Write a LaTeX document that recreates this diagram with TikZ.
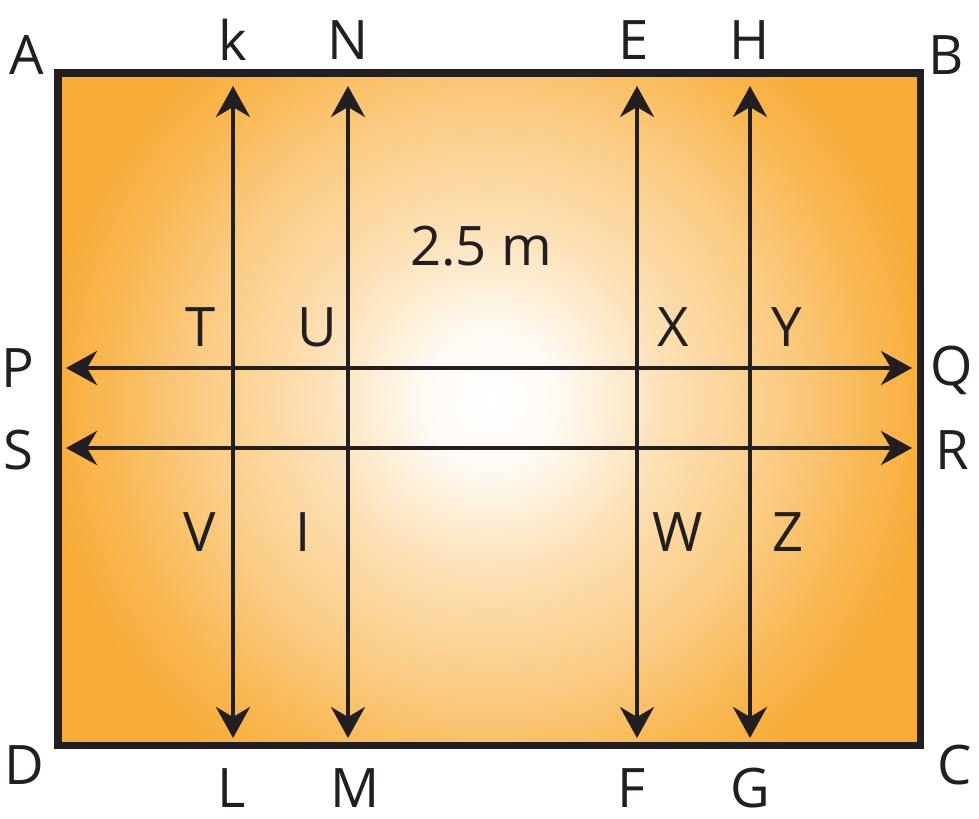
\documentclass[tikz,border=0pt]{standalone}
\usepackage{fontspec}
\setmainfont{Open Sans}
\usepackage{tikz}
\usetikzlibrary{arrows.meta}
\definecolor{plotorange}{RGB}{248,172,56}
\definecolor{inkdark}{RGB}{35,31,32}
\pgfdeclareradialshading{glow}{\pgfpoint{0bp}{0bp}}{color(0bp)=(white); color(3bp)=(white!94!plotorange); color(8bp)=(plotorange!38!white); color(13bp)=(plotorange!62!white); color(17bp)=(plotorange!86!white); color(20bp)=(plotorange); color(50bp)=(plotorange)}
\tikzset{
  lbl/.style={font=\fontsize{31}{36}\selectfont, text=inkdark, inner sep=0pt},
  dbl/.style={inkdark, line width=2.2pt, {Stealth[length=0.62cm,width=0.68cm,inset=0.2cm]}-{Stealth[length=0.62cm,width=0.68cm,inset=0.2cm]}}
}

\begin{document}
\begin{tikzpicture}[x=0.02cm,y=-0.02cm]
  \useasboundingbox (0,0) rectangle (979,818);
  % the plot
  \fill[plotorange] (58,73) rectangle (920,745);
  \begin{scope}
    \clip (58,73) rectangle (920,745);
    \shade[shading=glow] (490,400) circle (560);
  \end{scope}
  \draw[inkdark, line width=4pt] (58,73) rectangle (920,745);
  % arrow ends
  \coordinate (kt) at (233,86);  \coordinate (lb) at (233,738);
  \coordinate (nt) at (348,86);  \coordinate (mb) at (348,738);
  \coordinate (et) at (637,86);  \coordinate (fb) at (637,738);
  \coordinate (ht) at (750,86);  \coordinate (gb) at (750,738);
  \coordinate (pl) at (66,368);  \coordinate (qr) at (912,368);
  \coordinate (sl) at (66,448);  \coordinate (rr) at (912,448);
  \draw[dbl] (kt) -- (lb);
  \draw[dbl] (nt) -- (mb);
  \draw[dbl] (et) -- (fb);
  \draw[dbl] (ht) -- (gb);
  \draw[dbl] (pl) -- (qr);
  \draw[dbl] (sl) -- (rr);
  % corners
  \node[lbl] (A) at (27,55) {A};
  \node[lbl] (B) at (946,55) {B};
  \node[lbl] (C) at (955,765) {C};
  \node[lbl] (D) at (24,765) {D};
  % top and bottom
  \node[lbl] (k) at (233,40) {k};
  \node[lbl] (N) at (348,40) {N};
  \node[lbl] (E) at (634,40) {E};
  \node[lbl] (H) at (750,40) {H};
  \node[lbl] (L) at (232,788) {L};
  \node[lbl] (M) at (355,788) {M};
  \node[lbl] (F) at (632,788) {F};
  \node[lbl] (G) at (750,788) {G};
  % sides
  \node[lbl] (P) at (18,368) {P};
  \node[lbl] (Q) at (952,370) {Q};
  \node[lbl] (S) at (18,450) {S};
  \node[lbl] (R) at (952,450) {R};
  % inside
  \node[lbl] (T) at (201,327) {T};
  \node[lbl] (U) at (317,327) {U};
  \node[lbl] (X) at (673,327) {X};
  \node[lbl] (Y) at (787,327) {Y};
  \node[lbl] (V) at (200,532) {V};
  \node[lbl] (I) at (303,532) {I};
  \node[lbl] (W) at (678,532) {W};
  \node[lbl] (Z) at (788,532) {Z};
  \node[lbl] (len) at (481,246) {2.5 m};
\end{tikzpicture}
\end{document}
